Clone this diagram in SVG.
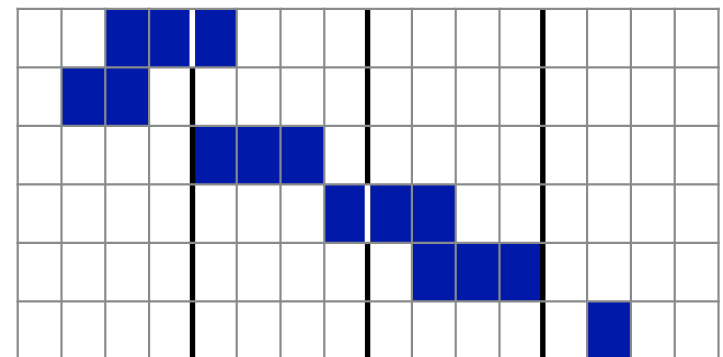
<svg xmlns="http://www.w3.org/2000/svg" width="723" height="357" viewBox="0 0 723 357">
<style>
.cell{fill:#0019A8}
.thick{stroke:#000;stroke-width:5.4}
.gap{stroke:#fff;stroke-width:5.6}
.grid{stroke:#888a8c;stroke-width:2.2;fill:none}
</style>
<rect x="0" y="0" width="723" height="357" fill="#fff"/>
<g id="cells">
<rect class="cell" x="105.3" y="8.8" width="131.4" height="58.5"/>
<rect class="cell" x="61.5" y="67.3" width="87.6" height="58.5"/>
<rect class="cell" x="192.9" y="125.8" width="131.4" height="58.5"/>
<rect class="cell" x="324.3" y="184.3" width="131.4" height="58.5"/>
<rect class="cell" x="411.9" y="242.8" width="131.4" height="58.5"/>
<rect class="cell" x="587.1" y="301.3" width="43.8" height="58.5"/>
</g>
<g id="thick-lines">
<line class="thick" x1="192.5" y1="8" x2="192.5" y2="357"/>
<line class="thick" x1="367.6" y1="8" x2="367.6" y2="357"/>
<line class="thick" x1="542.8" y1="8" x2="542.8" y2="357"/>
<line class="gap" x1="192.3" y1="8" x2="192.3" y2="67.3"/>
<line class="gap" x1="367.5" y1="184.3" x2="367.5" y2="242.8"/>
</g>
<g id="grid">
<path class="grid" d="M16.6 8.8H719.6M16.6 67.3H719.6M16.6 125.8H719.6M16.6 184.3H719.6M16.6 242.8H719.6M16.6 301.3H719.6"/>
<path class="grid" d="M17.7 7.7V357M61.5 7.7V357M105.3 7.7V357M149.1 7.7V357M236.7 7.7V357M280.5 7.7V357M324.3 7.7V357M411.9 7.7V357M455.7 7.7V357M499.5 7.7V357M587.1 7.7V357M630.9 7.7V357M674.7 7.7V357M718.5 7.7V357"/>
</g>
</svg>
